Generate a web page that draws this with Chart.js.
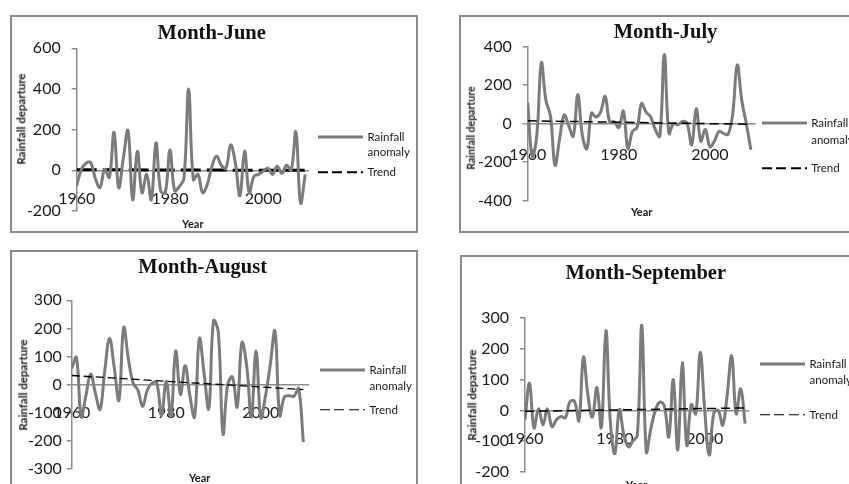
<!DOCTYPE html>
<html>
<head>
<meta charset="utf-8">
<script src="https://cdn.jsdelivr.net/npm/chart.js@4.4.0/dist/chart.umd.min.js"></script>
<style>
html, body { margin: 0; padding: 0; background: #fff; overflow: hidden; }
body { width: 849px; height: 484px; position: relative; font-family: Lato, sans-serif; color: #1a1a1a; }
.frame { position: absolute; border: 2px solid #8a8a8a; box-sizing: border-box; background: #fff; }
canvas { position: absolute; }
.t { position: absolute; white-space: nowrap; }
.title { font-family: "Liberation Serif", "Times New Roman", serif; font-weight: bold; font-size: 20.5px; line-height: 20.5px; color: #111; transform: translateX(-50%); }
.ytitle { font-weight: bold; font-size: 11.5px; line-height: 11.5px; transform: translate(-50%, -50%) rotate(-90deg); }
.xtitle { font-weight: bold; font-size: 11px; line-height: 11px; transform: translate(-50%, -50%); }
.leg { font-size: 11.5px; line-height: 12px; transform: translateY(-50%); }
.solid { position: absolute; width: 45px; height: 3px; background: #7b7b7b; transform: translateY(-50%); }
.dash { position: absolute; width: 45px; height: 1.5px; transform: translateY(-50%);
        background: repeating-linear-gradient(to right, #000 0 10px, transparent 10px 14.5px); }
</style>
</head>
<body>
<script>
// === Data ===
const years = [1960, 1961, 1962, 1963, 1964, 1965, 1966, 1967, 1968, 1969,
               1970, 1971, 1972, 1973, 1974, 1975, 1976, 1977, 1978, 1979,
               1980, 1981, 1982, 1983, 1984, 1985, 1986, 1987, 1988, 1989,
               1990, 1991, 1992, 1993, 1994, 1995, 1996, 1997, 1998, 1999,
               2000, 2001, 2002, 2003, 2004, 2005, 2006, 2007, 2008, 2009];

const juneAnomaly = [-75, 5, 35, 38, -40, -85, 5, -35, 187, -85,
                     60, 195, -145, 93, -110, -20, -145, 135, -100, -110,
                     100, -100, -80, -40, 400, -45, -20, -110, -70, 20,
                     70, 25, 10, 125, 40, -125, 95, -110, -30, -20,
                     -5, 10, -20, 20, -15, 25, 0, 190, -160, -20];

const julyAnomaly = [110, -170, -60, 316, 120, 40, -215, -80, 45, -10,
                     -65, 152, -60, -130, 55, 35, 60, 142, 10, 10,
                     -20, 65, -130, -40, -20, 105, 60, 35, -30, -65,
                     360, -50, 0, -5, 12, 0, -110, 78, -90, -30,
                     -120, -90, -40, -50, -55, 50, 305, 120, 0, -135];

const augustAnomaly = [57, 96, -115, -40, 37, -30, -89, 50, 164, 60,
                       -56, 203, 90, 5, -20, -78, -20, 5, 5, -110,
                       12, -112, 119, -35, 67, -40, -115, 164, 40, -86,
                       227, 188, -175, 0, 27, -80, 149, 70, -115, 119,
                       -118, -40, 70, 190, -110, -44, -40, -42, -14, -205];

const septemberAnomaly = [-30, 88, -57, 5, -47, 5, -53, -30, -20, -24,
                          28, 30, -33, 173, 50, -22, 74, -55, 259, -40,
                          -140, 3, -80, -118, -100, -80, 276, -134, -60, 0,
                          27, 15, -86, 100, -129, 155, -113, 19, -11, 188,
                          0, -145, -10, 0, -48, 50, 177, -11, 70, -43];

// trend lines: value at first and last year
const trendYears = [1960, 2009];
const juneTrend = [3, 0];
const julyTrend = [15, -3];
const augustTrend = [32, -18];
const septemberTrend = [-3, 8];

// tick labels
const xTickYears = [1960, 1980, 2000];
const juneYTicks = [-200, 0, 200, 400, 600];
const julyYTicks = [-400, -200, 0, 200, 400];
const augustYTicks = [-300, -200, -100, 0, 100, 200, 300];
const septemberYTicks = [-200, -100, 0, 100, 200, 300];

// === Layout (page pixels) ===
// frame: [left, top, width, height]; area: plot box [left, top, right, bottom]
const PANELS = [
    { title: 'Month-June', anomaly: juneAnomaly, trend: juneTrend, yTicks: juneYTicks,
      frame: [10, 15, 408, 218], area: [76.7, 48.3, 308, 211], xMax: 2009.6,
      yPad: 11, xPad: 19, titleAt: [211.7, 39.3], yTitleAt: [21, 119], yTitleSize: 11.5,
      xTitleAt: [192.8, 223], legend: [318, 136.7, 151.7, 172.3],
      trendWidth: 3, trendDash: [20, 6], trendOnTop: false },
    { title: 'Month-July', anomaly: julyAnomaly, trend: julyTrend, yTicks: julyYTicks,
      frame: [459, 15, 420, 218], area: [527.7, 46.7, 755, 200.7], xMax: 2009.9,
      yPad: 11, xPad: 22, titleAt: [665.5, 37.7], yTitleAt: [470.8, 127.5], yTitleSize: 10.5,
      xTitleAt: [641.7, 211.3], legend: [761.7, 123.3, 140, 168.3],
      trendWidth: 1.5, trendDash: [9, 5], trendOnTop: true },
    { title: 'Month-August', anomaly: augustAnomaly, trend: augustTrend, yTicks: augustYTicks,
      frame: [10, 250, 408, 250], area: [71.7, 300.3, 308.3, 468.7], xMax: 2010.05,
      yPad: 5, xPad: 19, titleAt: [202.7, 273], yTitleAt: [22.5, 384.5], yTitleSize: 11.5,
      xTitleAt: [199.7, 476.7], legend: [320, 370.3, 386, 409.7],
      trendWidth: 1.3, trendDash: [8, 4], trendOnTop: true },
    { title: 'Month-September', anomaly: septemberAnomaly, trend: septemberTrend, yTicks: septemberYTicks,
      frame: [460, 255, 420, 250], area: [525, 318, 748.3, 472], xMax: 2009.7,
      yPad: 11, xPad: 19, titleAt: [645.8, 278.7], yTitleAt: [471.7, 394.5], yTitleSize: 11.5,
      xTitleAt: [636.7, 484], legend: [760, 364.3, 379.7, 414.7],
      trendWidth: 1.5, trendDash: [9, 5], trendOnTop: true },
];

const GRAY_LINE = '#7b7b7b';
const AXIS = '#8c8c8c';
const TICK_TEXT = '#1a1a1a';

Chart.defaults.font.family = 'Lato, sans-serif';

function addDiv(cls, text, x, y, style) {
    const d = document.createElement('div');
    d.className = cls;
    if (text) d.textContent = text;
    d.style.left = x + 'px';
    d.style.top = y + 'px';
    if (style) Object.assign(d.style, style);
    document.body.appendChild(d);
    return d;
}

function drawPanel(p) {
    const [fl, ft, fw, fh] = p.frame;
    const [al, at, ar, ab] = p.area;

    addDiv('frame', '', fl, ft, { width: fw + 'px', height: fh + 'px' });

    const canvas = document.createElement('canvas');
    canvas.width = fw;
    canvas.height = fh;
    canvas.style.left = fl + 'px';
    canvas.style.top = ft + 'px';
    document.body.appendChild(canvas);

    const anomalyPts = years.map((x, i) => ({ x, y: p.anomaly[i] }));
    const trendPts = trendYears.map((x, i) => ({ x, y: p.trend[i] }));

    new Chart(canvas, {
        type: 'line',
        data: {
            datasets: [
                { label: 'Rainfall anomaly', data: anomalyPts, borderColor: GRAY_LINE, borderWidth: 3,
                  pointRadius: 0, tension: 0.4, fill: false, order: p.trendOnTop ? 1 : 0 },
                { label: 'Trend', data: trendPts, borderColor: '#000', borderWidth: p.trendWidth,
                  borderDash: p.trendDash, pointRadius: 0, fill: false, order: p.trendOnTop ? 0 : 1 },
            ]
        },
        options: {
            responsive: false,
            animation: false,
            events: [],
            layout: { padding: { left: 0, top: at - ft, right: fl + fw - ar, bottom: ft + fh - ab } },
            plugins: { legend: { display: false }, tooltip: { enabled: false }, title: { display: false } },
            scales: {
                x: {
                    type: 'linear', min: 1960, max: p.xMax, position: { y: 0 },
                    afterBuildTicks: (s) => { s.ticks = xTickYears.map(v => ({ value: v })); },
                    grid: { display: false, drawTicks: false },
                    border: { display: true, color: AXIS, width: 1.5 },
                    ticks: { padding: p.xPad, maxRotation: 0, autoSkip: false, color: TICK_TEXT,
                             font: { size: 16 }, callback: (v) => String(v) },
                },
                y: {
                    min: p.yTicks[0], max: p.yTicks[p.yTicks.length - 1],
                    afterBuildTicks: (s) => { s.ticks = p.yTicks.map(v => ({ value: v })); },
                    afterFit: (s) => { s.width = al - fl; },
                    grid: { drawOnChartArea: false, drawTicks: true, tickLength: 5, color: AXIS, lineWidth: 1.5 },
                    border: { display: true, color: AXIS, width: 1.5 },
                    ticks: { padding: p.yPad, color: TICK_TEXT, font: { size: 16 }, callback: (v) => String(v) },
                },
            }
        }
    });

    // texts
    addDiv('t title', p.title, p.titleAt[0], p.titleAt[1] - 17.2);
    addDiv('t ytitle', 'Rainfall departure', p.yTitleAt[0], p.yTitleAt[1],
           { fontSize: p.yTitleSize + 'px', lineHeight: p.yTitleSize + 'px' });
    addDiv('t xtitle', 'Year', p.xTitleAt[0], p.xTitleAt[1]);

    // legend
    const [lx, ySolid, yAnom, yTrend] = p.legend;
    addDiv('solid', '', lx, ySolid);
    addDiv('t leg', 'Rainfall', lx + 49.5, ySolid);
    addDiv('t leg', 'anomaly', lx + 49.5, yAnom);
    addDiv('dash', '', lx, yTrend);
    addDiv('t leg', 'Trend', lx + 49.5, yTrend);
}

PANELS.forEach(drawPanel);
</script>
</body>
</html>
